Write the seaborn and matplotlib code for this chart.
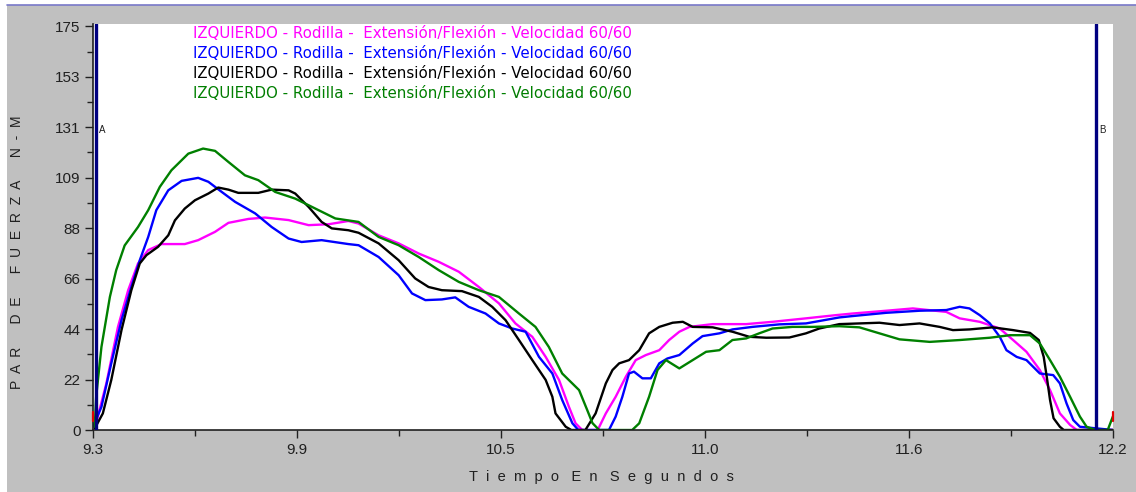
import numpy as np
import pandas as pd
import matplotlib
matplotlib.use("Agg")
import matplotlib.pyplot as plt
from matplotlib.patches import Rectangle
from matplotlib.lines import Line2D
import seaborn as sns

# curvas de par de fuerza (4 repeticiones)
t_mag = [9.305, 9.338, 9.371, 9.400, 9.428, 9.457, 9.495, 9.561, 9.599, 9.647, 9.685, 9.742, 9.789, 9.856,
         9.913, 9.970, 10.026, 10.055, 10.112, 10.169, 10.226, 10.283, 10.340, 10.397, 10.454, 10.501, 10.549,
         10.587, 10.625, 10.653, 10.672, 10.691, 10.735, 10.758, 10.786, 10.815, 10.843, 10.872, 10.910, 10.938,
         10.967, 10.996, 11.062, 11.157, 11.232, 11.327, 11.413, 11.460, 11.555, 11.631, 11.726, 11.764, 11.821,
         11.878, 11.916, 11.954, 11.992, 12.021, 12.049, 12.078, 12.097, 12.200]
v_mag = [0.7, 20.2, 44.7, 60.6, 72.2, 78.0, 80.6, 80.6, 82.3, 85.9, 89.8, 91.5, 92.1, 91.0,
         88.8, 89.2, 90.6, 89.5, 84.4, 80.9, 76.5, 72.9, 68.6, 62.0, 54.9, 46.2, 40.4,
         31.7, 21.7, 10.1, 2.9, 0, 0, 7.2, 14.4, 23.1, 30.3, 32.5, 34.6, 39.0,
         42.6, 44.7, 45.9, 45.9, 46.9, 48.4, 49.8, 50.5, 51.7, 52.7, 51.2, 48.4, 46.9,
         44.0, 39.0, 33.9, 26.0, 17.3, 7.2, 2.2, 0, 0]

t_blu = [9.300, 9.324, 9.352, 9.381, 9.409, 9.433, 9.457, 9.480, 9.514, 9.552, 9.599, 9.628, 9.666, 9.704,
         9.761, 9.808, 9.856, 9.893, 9.950, 10.026, 10.055, 10.112, 10.169, 10.207, 10.245, 10.292, 10.330,
         10.368, 10.416, 10.454, 10.492, 10.530, 10.568, 10.606, 10.634, 10.663, 10.680, 10.767, 10.786, 10.805,
         10.824, 10.838, 10.862, 10.886, 10.910, 10.933, 10.967, 11.005, 11.033, 11.081, 11.118, 11.175, 11.252,
         11.327, 11.422, 11.460, 11.555, 11.650, 11.726, 11.764, 11.792, 11.821, 11.850, 11.878, 11.897, 11.926,
         11.954, 11.992, 12.030, 12.049, 12.068, 12.087, 12.106, 12.200]
v_blu = [1.4, 10.0, 28.9, 47.6, 62.0, 73.6, 83.7, 95.3, 103.9, 108.0, 109.3, 107.6, 103.2, 98.9,
         93.9, 88.0, 83.0, 81.5, 82.3, 80.6, 80.1, 75.0, 67.1, 59.2, 56.3, 56.6, 57.5,
         53.4, 50.5, 46.2, 44.0, 42.6, 31.7, 24.5, 13.0, 2.9, 0, 0, 5.8, 14.4,
         24.5, 25.3, 22.4, 22.4, 28.9, 31.0, 32.5, 37.5, 40.7, 41.9, 43.6, 44.7, 45.8,
         46.2, 48.8, 49.4, 50.8, 51.7, 52.0, 53.4, 52.7, 49.8, 46.2, 40.4, 34.6, 31.7,
         30.3, 24.5, 23.8, 20.2, 11.5, 4.3, 1.4, 0]

t_neg = [9.305, 9.328, 9.352, 9.381, 9.409, 9.433, 9.452, 9.485, 9.514, 9.533, 9.561, 9.590, 9.628, 9.656,
         9.685, 9.713, 9.770, 9.808, 9.856, 9.875, 9.913, 9.950, 9.979, 10.026, 10.055, 10.112, 10.169,
         10.216, 10.254, 10.292, 10.349, 10.397, 10.435, 10.473, 10.511, 10.549, 10.587, 10.606, 10.615, 10.644,
         10.660, 10.700, 10.729, 10.758, 10.777, 10.796, 10.824, 10.853, 10.881, 10.910, 10.948, 10.977, 11.005,
         11.062, 11.118, 11.166, 11.214, 11.280, 11.327, 11.365, 11.422, 11.536, 11.593, 11.650, 11.707, 11.745,
         11.792, 11.858, 11.916, 11.964, 11.989, 12.003, 12.013, 12.021, 12.031, 12.049, 12.060, 12.200]
v_neg = [0.7, 7.2, 21.7, 43.3, 60.6, 72.2, 75.8, 79.4, 84.4, 90.9, 96.0, 99.6, 102.5, 105.1,
         104.2, 102.8, 102.8, 104.2, 103.9, 102.5, 96.7, 90.2, 87.4, 86.6, 85.5, 80.9, 73.6,
         65.7, 62.0, 60.6, 60.2, 57.7, 53.4, 47.6, 39.0, 30.3, 21.7, 14.4, 7.2, 1.4,
         0, 0, 7.2, 20.2, 26.0, 28.9, 30.3, 34.6, 41.9, 44.7, 46.5, 46.9, 44.7,
         44.5, 42.6, 40.4, 40.0, 40.1, 41.9, 44.0, 45.9, 46.5, 45.5, 46.2, 44.7, 43.3,
         43.6, 44.5, 43.3, 42.1, 39.0, 31.7, 21.7, 13.0, 5.1, 1.4, 0, 0]

t_ver = [9.305, 9.309, 9.324, 9.348, 9.366, 9.390, 9.428, 9.457, 9.490, 9.523, 9.571, 9.613, 9.647, 9.685,
         9.732, 9.770, 9.818, 9.875, 9.932, 9.989, 10.055, 10.112, 10.169, 10.226, 10.283, 10.340, 10.397,
         10.454, 10.511, 10.558, 10.596, 10.634, 10.682, 10.705, 10.720, 10.739, 10.833, 10.853, 10.881, 10.905,
         10.929, 10.967, 11.005, 11.043, 11.081, 11.118, 11.157, 11.194, 11.232, 11.289, 11.346, 11.422, 11.479,
         11.536, 11.593, 11.679, 11.764, 11.850, 11.907, 11.964, 11.992, 12.021, 12.049, 12.078, 12.106, 12.125,
         12.150, 12.185, 12.200]
v_ver = [1.4, 14.4, 36.0, 57.7, 69.3, 80.0, 88.0, 95.3, 105.4, 112.6, 119.8, 122.0, 121.0, 116.2,
         110.4, 108.3, 103.2, 100.3, 96.0, 91.7, 90.2, 83.7, 80.1, 75.0, 69.3, 64.2, 60.6,
         57.7, 50.5, 44.7, 36.0, 24.5, 17.3, 8.7, 3.0, 0, 0, 2.9, 14.4, 26.0,
         30.3, 26.7, 30.3, 33.9, 34.6, 39.0, 39.7, 41.9, 44.0, 44.7, 44.7, 45.0, 44.5,
         41.9, 39.3, 38.2, 39.0, 40.0, 41.1, 41.1, 37.5, 30.3, 23.1, 14.4, 5.8, 1.4,
         0, 0, 6.0]

series_ids = ["rep1", "rep2", "rep3", "rep4"]
series_colors = ["#ff00ff", "#0000ff", "#000000", "#008000"]
series_label = "IZQUIERDO - Rodilla -  Extensión/Flexión - Velocidad 60/60"

# cursores A y B
cursor_names = ["A", "B"]
cursor_t = [9.308, 12.151]

# pequeñas marcas rojas en los extremos
red_t = [9.300, 12.199]
red_lo = [4.0, 4.0]
red_hi = [8.0, 8.0]

xtick_labels = ["9.3", "9.9", "10.5", "11.0", "11.6", "12.2"]
ytick_labels = ["0", "22", "44", "66", "88", "109", "131", "153", "175"]

frames = []
for sid, tt, vv in zip(series_ids, [t_mag, t_blu, t_neg, t_ver], [v_mag, v_blu, v_neg, v_ver]):
    frames.append(pd.DataFrame({"tiempo": tt, "par": vv, "serie": sid}))
df = pd.concat(frames, ignore_index=True)

sns.set_style("ticks")
plt.rcParams["font.family"] = ["Liberation Sans", "DejaVu Sans"]

W, H = 1136, 492
fig = plt.figure(figsize=(W / 100, H / 100), dpi=100)
fig.patch.set_facecolor("white")
fig.add_artist(Rectangle((7 / W, 0), 1 - 7 / W, (H - 5) / H, transform=fig.transFigure,
                         facecolor="#c0c0c0", edgecolor="none", zorder=0))
fig.add_artist(Line2D([7 / W, 1], [(H - 4.5) / H, (H - 4.5) / H], transform=fig.transFigure,
                      color="#7878c8", lw=1.2, zorder=1))

ax = fig.add_axes([93 / W, 62 / H, 1020 / W, 406 / H])
ax.set_facecolor("white")

sns.lineplot(data=df, x="tiempo", y="par", hue="serie", hue_order=series_ids,
             palette=dict(zip(series_ids, series_colors)), estimator=None, sort=False,
             linewidth=1.7, legend=False, ax=ax)

for name, tc in zip(cursor_names, cursor_t):
    ax.axvline(tc, color="#000080", lw=2.4, zorder=5)
    ax.text(tc + 0.01, 0.74, name, transform=ax.get_xaxis_transform(), fontsize=7,
            color="#202020", ha="left", va="center")

for rt, lo, hi in zip(red_t, red_lo, red_hi):
    ax.plot([rt, rt], [lo, hi], color="#e00000", lw=1.6, clip_on=False, zorder=6)

for i, c in enumerate(series_colors):
    ax.text(0.098, (430 - 33 - 20 * i) / 406, series_label, transform=ax.transAxes,
            color=c, fontsize=10.8, family="DejaVu Sans", ha="left", va="center")

ax.set_xlim(9.3, 12.2)
ax.set_ylim(0, 176)
xt = np.linspace(9.3, 12.2, 6)
yt = np.linspace(0, 175, 9)
ax.set_xticks(xt)
ax.set_xticklabels(xtick_labels)
ax.set_xticks((xt[:-1] + xt[1:]) / 2, minor=True)
ax.set_yticks(yt)
ax.set_yticklabels(ytick_labels)
ax.set_yticks((yt[:-1] + yt[1:]) / 2, minor=True)
ax.tick_params(which="major", length=6, width=1, color="#202020", labelsize=11,
               labelcolor="#202020", pad=3)
ax.tick_params(which="minor", length=4, width=1, color="#202020")

for s in ["top", "right"]:
    ax.spines[s].set_visible(False)
for s in ["left", "bottom"]:
    ax.spines[s].set_color("#202020")
    ax.spines[s].set_linewidth(1.2)

ax.set_xlabel("")
ax.set_ylabel("")
fig.text(601 / W, 1 - 477 / H, "T  i  e  m  p  o   E  n   S  e  g  u  n  d  o  s", ha="center",
         va="center", fontsize=10.5, color="#202020")
fig.text(17 / W, 1 - 252 / H, "P  A  R      D  E      F  U  E  R  Z  A      N  -  M", ha="center",
         va="center", rotation=90, fontsize=10, color="#202020")

fig.savefig("out.png", dpi=100, facecolor=fig.get_facecolor())
